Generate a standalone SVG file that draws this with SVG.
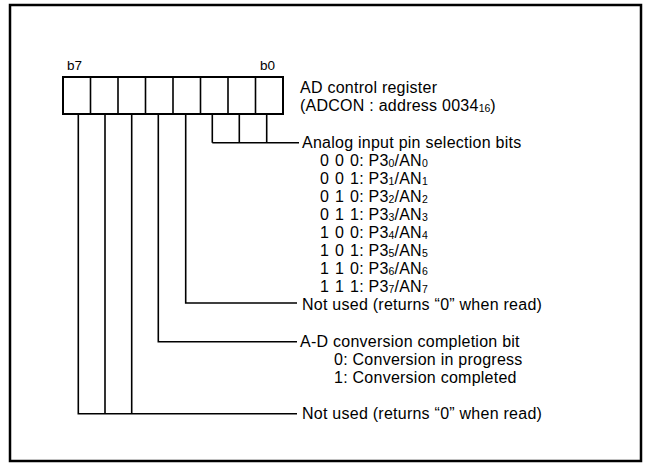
<svg xmlns="http://www.w3.org/2000/svg" width="645" height="463" viewBox="0 0 645 463">
<style>
text{font-family:"Liberation Sans",Arial,sans-serif;font-size:16px;letter-spacing:0.25px;fill:#000}
.sm{font-size:13.5px;letter-spacing:0}
.sub{font-size:10.5px;letter-spacing:0}
.ln{fill:none;stroke:#000;stroke-width:1.6}
</style>
<rect x="10" y="5" width="631" height="456" fill="#fff" stroke="#000" stroke-width="2.5"/>
<g id="register">
<rect x="63" y="77" width="220" height="37" fill="#fff" stroke="#000" stroke-width="2"/>
<path d="M90.5 77V114M118 77V114M145.5 77V114M173 77V114M200.5 77V114M228 77V114M255.5 77V114" class="ln"/>
<text class="sm" x="67" y="70">b7</text>
<text class="sm" x="260" y="70">b0</text>
</g>
<g id="title">
<text x="300" y="93">AD control register</text>
<text x="300" y="111">(ADCON : address 0034<tspan class="sub" dy="1">16</tspan><tspan dy="-1">)</tspan></text>
</g>
<g id="connectors">
<path class="ln" d="M212.3 114V142.7M239.3 114V142.7M266.7 114V142.7M212.3 142.7H299"/>
<path class="ln" d="M185.7 114V303H297"/>
<path class="ln" d="M158.3 114V341.7H297"/>
<path class="ln" d="M78.3 114V413.7H297M105 114V413.7M131.7 114V413.7"/>
</g>
<g id="analog">
<text x="302" y="148">Analog input pin selection bits</text>
<text y="166"><tspan x="320">0</tspan><tspan x="335">0</tspan><tspan x="350">0: P3</tspan><tspan class="sub" dy="1">0</tspan><tspan dy="-1">/AN</tspan><tspan class="sub" dy="1">0</tspan></text>
<text y="184"><tspan x="320">0</tspan><tspan x="335">0</tspan><tspan x="350">1: P3</tspan><tspan class="sub" dy="1">1</tspan><tspan dy="-1">/AN</tspan><tspan class="sub" dy="1">1</tspan></text>
<text y="202"><tspan x="320">0</tspan><tspan x="335">1</tspan><tspan x="350">0: P3</tspan><tspan class="sub" dy="1">2</tspan><tspan dy="-1">/AN</tspan><tspan class="sub" dy="1">2</tspan></text>
<text y="220"><tspan x="320">0</tspan><tspan x="335">1</tspan><tspan x="350">1: P3</tspan><tspan class="sub" dy="1">3</tspan><tspan dy="-1">/AN</tspan><tspan class="sub" dy="1">3</tspan></text>
<text y="238"><tspan x="320">1</tspan><tspan x="335">0</tspan><tspan x="350">0: P3</tspan><tspan class="sub" dy="1">4</tspan><tspan dy="-1">/AN</tspan><tspan class="sub" dy="1">4</tspan></text>
<text y="256"><tspan x="320">1</tspan><tspan x="335">0</tspan><tspan x="350">1: P3</tspan><tspan class="sub" dy="1">5</tspan><tspan dy="-1">/AN</tspan><tspan class="sub" dy="1">5</tspan></text>
<text y="274"><tspan x="320">1</tspan><tspan x="335">1</tspan><tspan x="350">0: P3</tspan><tspan class="sub" dy="1">6</tspan><tspan dy="-1">/AN</tspan><tspan class="sub" dy="1">6</tspan></text>
<text y="292"><tspan x="320">1</tspan><tspan x="335">1</tspan><tspan x="350">1: P3</tspan><tspan class="sub" dy="1">7</tspan><tspan dy="-1">/AN</tspan><tspan class="sub" dy="1">7</tspan></text>
</g>
<g id="notused1">
<text x="302" y="310">Not used (returns “0” when read)</text>
</g>
<g id="adbit">
<text x="300" y="347">A-D conversion completion bit</text>
<text x="334" y="365">0: Conversion in progress</text>
<text x="334" y="383">1: Conversion completed</text>
</g>
<g id="notused2">
<text x="302" y="419">Not used (returns “0” when read)</text>
</g>
</svg>
